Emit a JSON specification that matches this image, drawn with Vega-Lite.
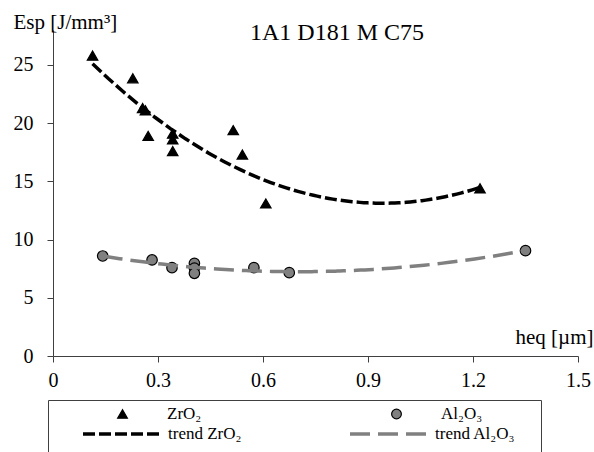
{
  "$schema": "https://vega.github.io/schema/vega-lite/v6.json",
  "width": 525,
  "height": 326,
  "autosize": {"type": "none"},
  "padding": {"left": 53, "top": 30, "right": 16, "bottom": 96},
  "background": "white",
  "config": {
    "view": {"stroke": null},
    "font": "Liberation Serif",
    "axis": {
      "grid": false,
      "domainColor": "#404040",
      "tickColor": "#404040",
      "labelColor": "black",
      "titleColor": "black",
      "labelFont": "Liberation Serif",
      "titleFont": "Liberation Serif",
      "labelFontSize": 20,
      "titleFontSize": 21,
      "titleFontWeight": "normal",
      "tickSize": 6
    }
  },
  "title": {
    "text": "1A1 D181 M C75",
    "anchor": "start",
    "frame": "group",
    "dx": 197,
    "dy": 53,
    "offset": 0,
    "baseline": "alphabetic",
    "font": "Liberation Serif",
    "fontSize": 24,
    "fontWeight": "normal",
    "color": "black"
  },
  "data": {
    "values": [
      {"series": "ZrO₂", "trend": "trend ZrO₂", "x": 0.113, "y": 25.8},
      {"series": "ZrO₂", "trend": "trend ZrO₂", "x": 0.228, "y": 23.85},
      {"series": "ZrO₂", "trend": "trend ZrO₂", "x": 0.256, "y": 21.3},
      {"series": "ZrO₂", "trend": "trend ZrO₂", "x": 0.264, "y": 21.1},
      {"series": "ZrO₂", "trend": "trend ZrO₂", "x": 0.272, "y": 18.9},
      {"series": "ZrO₂", "trend": "trend ZrO₂", "x": 0.342, "y": 19.1},
      {"series": "ZrO₂", "trend": "trend ZrO₂", "x": 0.342, "y": 18.6},
      {"series": "ZrO₂", "trend": "trend ZrO₂", "x": 0.342, "y": 17.6},
      {"series": "ZrO₂", "trend": "trend ZrO₂", "x": 0.515, "y": 19.4},
      {"series": "ZrO₂", "trend": "trend ZrO₂", "x": 0.541, "y": 17.3},
      {"series": "ZrO₂", "trend": "trend ZrO₂", "x": 0.608, "y": 13.1},
      {"series": "ZrO₂", "trend": "trend ZrO₂", "x": 1.22, "y": 14.4},
      {"series": "Al₂O₃", "trend": "trend Al₂O₃", "x": 0.142, "y": 8.59},
      {"series": "Al₂O₃", "trend": "trend Al₂O₃", "x": 0.283, "y": 8.25},
      {"series": "Al₂O₃", "trend": "trend Al₂O₃", "x": 0.34, "y": 7.59},
      {"series": "Al₂O₃", "trend": "trend Al₂O₃", "x": 0.404, "y": 7.96},
      {"series": "Al₂O₃", "trend": "trend Al₂O₃", "x": 0.404, "y": 7.55},
      {"series": "Al₂O₃", "trend": "trend Al₂O₃", "x": 0.404, "y": 7.1},
      {"series": "Al₂O₃", "trend": "trend Al₂O₃", "x": 0.574, "y": 7.59},
      {"series": "Al₂O₃", "trend": "trend Al₂O₃", "x": 0.675, "y": 7.16},
      {"series": "Al₂O₃", "trend": "trend Al₂O₃", "x": 1.35, "y": 9.05}
    ]
  },
  "encoding": {
    "x": {
      "field": "x",
      "type": "quantitative",
      "scale": {"domain": [0, 1.5], "nice": false, "zero": false},
      "axis": {
        "values": [0, 0.3, 0.6, 0.9, 1.2, 1.5],
        "format": "~g",
        "title": "heq [µm]",
        "titleX": 540,
        "titleY": -13,
        "titleAlign": "right",
        "titleAnchor": null,
        "titleBaseline": "alphabetic",
        "labelPadding": 8,
        "labelFlush": false
      }
    },
    "y": {
      "field": "y",
      "type": "quantitative",
      "scale": {"domain": [0, 28], "nice": false},
      "axis": {
        "values": [0, 5, 10, 15, 20, 25],
        "title": "Esp [J/mm³]",
        "titleAngle": 0,
        "titleAlign": "left",
        "titleBaseline": "alphabetic",
        "titleX": -40,
        "titleY": -2,
        "labelPadding": 14,
        "labelFlush": false
      }
    }
  },
  "layer": [
    {
      "mark": {"type": "point", "filled": true, "stroke": "black", "strokeWidth": 1.2, "opacity": 1, "size": 110},
      "encoding": {
        "shape": {
          "field": "series",
          "type": "nominal",
          "scale": {"domain": ["ZrO₂", "Al₂O₃"], "range": ["triangle-up", "circle"]},
          "legend": {
            "orient": "none",
            "direction": "horizontal",
            "legendX": 61,
            "legendY": 375,
            "title": null,
            "columnPadding": 186,
            "clipHeight": 18,
            "padding": 0,
            "symbolSize": 95,
            "symbolStrokeWidth": 1.2,
            "symbolStrokeColor": "black",
            "symbolOpacity": 1,
            "symbolOffset": 0,
            "labelOffset": 36,
            "labelFont": "Liberation Serif",
            "labelFontSize": 17,
            "labelColor": "black",
            "labelLimit": 300,
            "encode": {"symbols": {"update": {"stroke": {"value": "black"}, "strokeWidth": {"value": 1.2}}}}
          }
        },
        "fill": {
          "field": "series",
          "type": "nominal",
          "scale": {"domain": ["ZrO₂", "Al₂O₃"], "range": ["black", "#808080"]},
          "legend": {
            "orient": "none",
            "direction": "horizontal",
            "legendX": 61,
            "legendY": 375,
            "title": null,
            "columnPadding": 186,
            "clipHeight": 18,
            "padding": 0,
            "symbolSize": 95,
            "symbolStrokeWidth": 1.2,
            "symbolStrokeColor": "black",
            "symbolOpacity": 1,
            "symbolOffset": 0,
            "labelOffset": 36,
            "labelFont": "Liberation Serif",
            "labelFontSize": 17,
            "labelColor": "black",
            "labelLimit": 300,
            "encode": {"symbols": {"update": {"stroke": {"value": "black"}, "strokeWidth": {"value": 1.2}}}}
          }
        }
      }
    },
    {
      "transform": [
        {"regression": "y", "on": "x", "groupby": ["trend"], "method": "poly", "order": 2}
      ],
      "mark": {"type": "line", "strokeWidth": 3.5},
      "encoding": {
        "stroke": {
          "field": "trend",
          "type": "nominal",
          "scale": {"domain": ["trend ZrO₂", "trend Al₂O₃"], "range": ["black", "#808080"]},
          "legend": {
            "orient": "none",
            "direction": "horizontal",
            "legendX": -5,
            "legendY": 370,
            "title": null,
            "columnPadding": 98,
            "clipHeight": 18,
            "padding": 25,
            "strokeColor": "#404040",
            "symbolType": "stroke",
            "symbolSize": 5929,
            "symbolStrokeWidth": 3.5,
            "symbolOpacity": 1,
            "symbolOffset": 8,
            "labelOffset": 6,
            "labelFont": "Liberation Serif",
            "labelFontSize": 17,
            "labelColor": "black",
            "labelLimit": 300
          }
        },
        "strokeDash": {
          "field": "trend",
          "type": "nominal",
          "scale": {"domain": ["trend ZrO₂", "trend Al₂O₃"], "range": [[12, 4], [20, 8]]},
          "legend": {
            "orient": "none",
            "direction": "horizontal",
            "legendX": -5,
            "legendY": 370,
            "title": null,
            "columnPadding": 98,
            "clipHeight": 18,
            "padding": 25,
            "strokeColor": "#404040",
            "symbolType": "stroke",
            "symbolSize": 5929,
            "symbolStrokeWidth": 3.5,
            "symbolOpacity": 1,
            "symbolOffset": 8,
            "labelOffset": 6,
            "labelFont": "Liberation Serif",
            "labelFontSize": 17,
            "labelColor": "black",
            "labelLimit": 300
          }
        }
      }
    }
  ]
}
